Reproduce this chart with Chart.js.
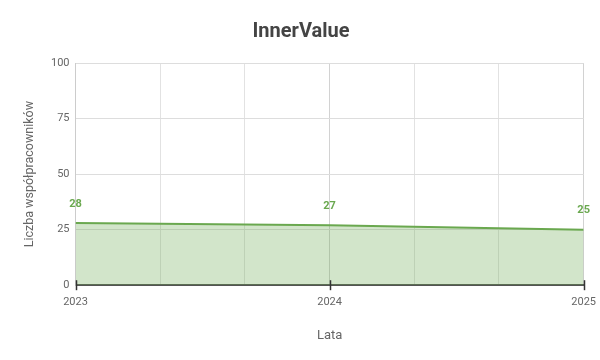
<!DOCTYPE html>
<html lang="pl">
<head>
    <meta charset="UTF-8">
    <title>InnerValue</title>
    <script src="https://cdn.jsdelivr.net/npm/chart.js"></script>
    <style>
        html, body { margin: 0; padding: 0; background: #fff; }
        #wrap { width: 600px; height: 360px; }
    </style>
</head>
<body>
<div id="wrap"><canvas id="innerChart"></canvas></div>
<script>
    // dane
    const years = [2023, 2024, 2025];
    const employees = [28, 27, 25];
    const yTicks = [0, 25, 50, 75, 100];

    const green = '#6aa84f';
    const isYear = v => Math.abs(v - Math.round(v)) < 1e-6;

    // etykiety wartości nad punktami
    const valueLabels = {
        id: 'valueLabels',
        afterDatasetsDraw(chart) {
            const ctx = chart.ctx;
            const meta = chart.getDatasetMeta(0);
            ctx.save();
            ctx.font = 'bold 11px Roboto';
            ctx.fillStyle = green;
            ctx.textAlign = 'center';
            ctx.textBaseline = 'middle';
            meta.data.forEach((pt, i) => {
                ctx.fillText(String(employees[i]), pt.x, pt.y - 19);
            });
            ctx.restore();
        }
    };

    // krótkie znaczniki lat na osi X
    const yearMarks = {
        id: 'yearMarks',
        afterDraw(chart) {
            const ctx = chart.ctx;
            const xs = chart.scales.x;
            const y0 = chart.chartArea.bottom;
            ctx.save();
            ctx.strokeStyle = '#333';
            ctx.lineWidth = 1.5;
            years.forEach(yr => {
                const px = Math.round(xs.getPixelForValue(yr)) + 0.5;
                ctx.beginPath();
                ctx.moveTo(px, y0 - 5);
                ctx.lineTo(px, y0 + 5);
                ctx.stroke();
            });
            ctx.restore();
        }
    };

    Chart.defaults.font.family = 'Roboto';
    Chart.defaults.color = '#666';

    new Chart(document.getElementById('innerChart'), {
        type: 'line',
        data: {
            datasets: [{
                label: 'InnerValue',
                data: years.map((y, i) => ({ x: y, y: employees[i] })),
                borderColor: green,
                backgroundColor: 'rgba(106, 168, 79, 0.3)',
                borderWidth: 2,
                fill: 'origin',
                pointRadius: 0,
                tension: 0
            }]
        },
        options: {
            responsive: true,
            maintainAspectRatio: false,
            animation: false,
            layout: { padding: { left: 18, right: 16, top: 4, bottom: 12 } },
            plugins: {
                legend: { display: false },
                tooltip: { enabled: false },
                title: {
                    display: true,
                    text: 'InnerValue',
                    color: '#444',
                    font: { size: 20, weight: 'bold' },
                    padding: { top: 16, bottom: 19 }
                }
            },
            scales: {
                x: {
                    type: 'linear',
                    min: years[0],
                    max: years[years.length - 1],
                    ticks: {
                        stepSize: 1 / 3,
                        autoSkip: false,
                        maxRotation: 0,
                        padding: 4,
                        font: { size: 11 },
                        callback: v => isYear(v) ? String(Math.round(v)) : ''
                    },
                    grid: {
                        color: c => c.tick && isYear(c.tick.value) ? '#d2d2d2' : '#e2e2e2',
                        drawTicks: true,
                        tickColor: 'transparent',
                        tickLength: 6
                    },
                    border: { color: '#555', width: 2 },
                    title: {
                        display: true,
                        text: 'Lata',
                        color: '#666',
                        font: { size: 13 },
                        padding: { top: 16 }
                    }
                },
                y: {
                    min: 0,
                    max: 100,
                    afterBuildTicks: axis => { axis.ticks = yTicks.map(v => ({ value: v })); },
                    ticks: { font: { size: 11 }, padding: 6 },
                    grid: { color: '#ddd', tickLength: 0 },
                    border: { color: '#ccc' },
                    title: {
                        display: true,
                        text: 'Liczba współpracowników',
                        color: '#666',
                        font: { size: 12.5 },
                        padding: { bottom: 8 }
                    }
                }
            }
        },
        plugins: [valueLabels, yearMarks]
    });
</script>
</body>
</html>
